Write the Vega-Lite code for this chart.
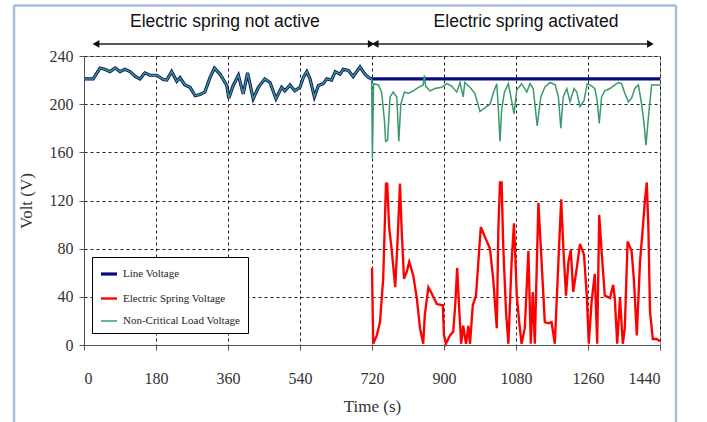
{
"$schema":"https://vega.github.io/schema/vega-lite/v6.json",
"width":576,"height":289,
"autosize":{"type":"none"},
"padding":{"left":84,"top":56,"right":47,"bottom":77},
"background":"white",
"datasets":{
"lines":[
{"s":"Line Voltage","t":0,"v":221},{"s":"Line Voltage","t":23,"v":221},{"s":"Line Voltage","t":40,"v":230},{"s":"Line Voltage","t":52,"v":229},{"s":"Line Voltage","t":65,"v":227},{"s":"Line Voltage","t":78,"v":230},{"s":"Line Voltage","t":90,"v":227},{"s":"Line Voltage","t":102,"v":229},{"s":"Line Voltage","t":115,"v":227},{"s":"Line Voltage","t":128,"v":223},{"s":"Line Voltage","t":140,"v":221},{"s":"Line Voltage","t":152,"v":226},{"s":"Line Voltage","t":165,"v":224},{"s":"Line Voltage","t":182,"v":224},{"s":"Line Voltage","t":198,"v":220.5},{"s":"Line Voltage","t":207,"v":220},{"s":"Line Voltage","t":219,"v":227},{"s":"Line Voltage","t":232,"v":219},{"s":"Line Voltage","t":240,"v":222},{"s":"Line Voltage","t":252,"v":216},{"s":"Line Voltage","t":265,"v":214},{"s":"Line Voltage","t":278,"v":207},{"s":"Line Voltage","t":290,"v":208},{"s":"Line Voltage","t":302,"v":210},{"s":"Line Voltage","t":315,"v":222},{"s":"Line Voltage","t":326,"v":230},{"s":"Line Voltage","t":340,"v":225},{"s":"Line Voltage","t":357,"v":215.5},{"s":"Line Voltage","t":362,"v":205},{"s":"Line Voltage","t":373,"v":215.5},{"s":"Line Voltage","t":386,"v":224},{"s":"Line Voltage","t":398,"v":208.5},{"s":"Line Voltage","t":409,"v":226},{"s":"Line Voltage","t":423,"v":204.5},{"s":"Line Voltage","t":436,"v":214},{"s":"Line Voltage","t":452,"v":221},{"s":"Line Voltage","t":465,"v":218},{"s":"Line Voltage","t":480,"v":204.5},{"s":"Line Voltage","t":494,"v":214},{"s":"Line Voltage","t":502,"v":211},{"s":"Line Voltage","t":515,"v":216},{"s":"Line Voltage","t":527,"v":211},{"s":"Line Voltage","t":540,"v":214},{"s":"Line Voltage","t":548,"v":222},{"s":"Line Voltage","t":557,"v":227},{"s":"Line Voltage","t":565,"v":221},{"s":"Line Voltage","t":576,"v":206},{"s":"Line Voltage","t":586,"v":215.5},{"s":"Line Voltage","t":598,"v":217},{"s":"Line Voltage","t":607,"v":221},{"s":"Line Voltage","t":619,"v":220},{"s":"Line Voltage","t":628,"v":227},{"s":"Line Voltage","t":640,"v":225},{"s":"Line Voltage","t":648,"v":229},{"s":"Line Voltage","t":661,"v":228},{"s":"Line Voltage","t":673,"v":223},{"s":"Line Voltage","t":690,"v":231},{"s":"Line Voltage","t":702,"v":225},{"s":"Line Voltage","t":712,"v":222},{"s":"Line Voltage","t":719,"v":221},{"s":"Line Voltage","t":1440,"v":221},
{"s":"Electric Spring Voltage","t":720,"v":64},{"s":"Electric Spring Voltage","t":723,"v":1},{"s":"Electric Spring Voltage","t":732,"v":8},{"s":"Electric Spring Voltage","t":740,"v":19},{"s":"Electric Spring Voltage","t":748,"v":55},{"s":"Electric Spring Voltage","t":755,"v":134},{"s":"Electric Spring Voltage","t":758,"v":134},{"s":"Electric Spring Voltage","t":763,"v":97},{"s":"Electric Spring Voltage","t":769,"v":80},{"s":"Electric Spring Voltage","t":778,"v":48},{"s":"Electric Spring Voltage","t":783,"v":80},{"s":"Electric Spring Voltage","t":790,"v":134},{"s":"Electric Spring Voltage","t":794,"v":97},{"s":"Electric Spring Voltage","t":800,"v":55},{"s":"Electric Spring Voltage","t":807,"v":61},{"s":"Electric Spring Voltage","t":813,"v":69},{"s":"Electric Spring Voltage","t":823,"v":58},{"s":"Electric Spring Voltage","t":832,"v":39},{"s":"Electric Spring Voltage","t":840,"v":14},{"s":"Electric Spring Voltage","t":848,"v":1},{"s":"Electric Spring Voltage","t":852,"v":25},{"s":"Electric Spring Voltage","t":861,"v":48},{"s":"Electric Spring Voltage","t":869,"v":43},{"s":"Electric Spring Voltage","t":882,"v":34},{"s":"Electric Spring Voltage","t":897,"v":33},{"s":"Electric Spring Voltage","t":900,"v":8},{"s":"Electric Spring Voltage","t":905,"v":1},{"s":"Electric Spring Voltage","t":915,"v":8},{"s":"Electric Spring Voltage","t":923,"v":11},{"s":"Electric Spring Voltage","t":928,"v":33},{"s":"Electric Spring Voltage","t":933,"v":64},{"s":"Electric Spring Voltage","t":938,"v":30},{"s":"Electric Spring Voltage","t":943,"v":1},{"s":"Electric Spring Voltage","t":948,"v":16},{"s":"Electric Spring Voltage","t":955,"v":1},{"s":"Electric Spring Voltage","t":961,"v":16},{"s":"Electric Spring Voltage","t":965,"v":1},{"s":"Electric Spring Voltage","t":972,"v":33},{"s":"Electric Spring Voltage","t":980,"v":41},{"s":"Electric Spring Voltage","t":992,"v":98},{"s":"Electric Spring Voltage","t":1002,"v":90},{"s":"Electric Spring Voltage","t":1015,"v":80},{"s":"Electric Spring Voltage","t":1023,"v":55},{"s":"Electric Spring Voltage","t":1032,"v":14},{"s":"Electric Spring Voltage","t":1036,"v":97},{"s":"Electric Spring Voltage","t":1040,"v":135},{"s":"Electric Spring Voltage","t":1044,"v":135},{"s":"Electric Spring Voltage","t":1048,"v":83},{"s":"Electric Spring Voltage","t":1055,"v":28},{"s":"Electric Spring Voltage","t":1061,"v":1},{"s":"Electric Spring Voltage","t":1069,"v":69},{"s":"Electric Spring Voltage","t":1075,"v":101},{"s":"Electric Spring Voltage","t":1082,"v":41},{"s":"Electric Spring Voltage","t":1088,"v":19},{"s":"Electric Spring Voltage","t":1094,"v":1},{"s":"Electric Spring Voltage","t":1102,"v":14},{"s":"Electric Spring Voltage","t":1111,"v":78},{"s":"Electric Spring Voltage","t":1117,"v":1},{"s":"Electric Spring Voltage","t":1122,"v":44},{"s":"Electric Spring Voltage","t":1127,"v":1},{"s":"Electric Spring Voltage","t":1136,"v":118},{"s":"Electric Spring Voltage","t":1144,"v":69},{"s":"Electric Spring Voltage","t":1152,"v":19},{"s":"Electric Spring Voltage","t":1161,"v":18},{"s":"Electric Spring Voltage","t":1169,"v":19},{"s":"Electric Spring Voltage","t":1177,"v":1},{"s":"Electric Spring Voltage","t":1186,"v":69},{"s":"Electric Spring Voltage","t":1193,"v":121},{"s":"Electric Spring Voltage","t":1198,"v":83},{"s":"Electric Spring Voltage","t":1205,"v":41},{"s":"Electric Spring Voltage","t":1211,"v":69},{"s":"Electric Spring Voltage","t":1217,"v":79},{"s":"Electric Spring Voltage","t":1223,"v":44},{"s":"Electric Spring Voltage","t":1232,"v":64},{"s":"Electric Spring Voltage","t":1240,"v":84},{"s":"Electric Spring Voltage","t":1250,"v":75},{"s":"Electric Spring Voltage","t":1257,"v":41},{"s":"Electric Spring Voltage","t":1262,"v":1},{"s":"Electric Spring Voltage","t":1269,"v":36},{"s":"Electric Spring Voltage","t":1277,"v":59},{"s":"Electric Spring Voltage","t":1283,"v":1},{"s":"Electric Spring Voltage","t":1288,"v":108},{"s":"Electric Spring Voltage","t":1294,"v":78},{"s":"Electric Spring Voltage","t":1302,"v":41},{"s":"Electric Spring Voltage","t":1315,"v":39},{"s":"Electric Spring Voltage","t":1323,"v":50},{"s":"Electric Spring Voltage","t":1327,"v":39},{"s":"Electric Spring Voltage","t":1333,"v":1},{"s":"Electric Spring Voltage","t":1340,"v":39},{"s":"Electric Spring Voltage","t":1347,"v":1},{"s":"Electric Spring Voltage","t":1352,"v":14},{"s":"Electric Spring Voltage","t":1359,"v":86},{"s":"Electric Spring Voltage","t":1369,"v":78},{"s":"Electric Spring Voltage","t":1375,"v":53},{"s":"Electric Spring Voltage","t":1382,"v":8},{"s":"Electric Spring Voltage","t":1390,"v":69},{"s":"Electric Spring Voltage","t":1397,"v":97},{"s":"Electric Spring Voltage","t":1402,"v":119},{"s":"Electric Spring Voltage","t":1407,"v":135},{"s":"Electric Spring Voltage","t":1411,"v":97},{"s":"Electric Spring Voltage","t":1415,"v":28},{"s":"Electric Spring Voltage","t":1422,"v":5},{"s":"Electric Spring Voltage","t":1432,"v":5},{"s":"Electric Spring Voltage","t":1440,"v":3},
{"s":"Non-Critical Load Voltage","t":0,"v":221},{"s":"Non-Critical Load Voltage","t":23,"v":221},{"s":"Non-Critical Load Voltage","t":40,"v":230},{"s":"Non-Critical Load Voltage","t":52,"v":229},{"s":"Non-Critical Load Voltage","t":65,"v":227},{"s":"Non-Critical Load Voltage","t":78,"v":230},{"s":"Non-Critical Load Voltage","t":90,"v":227},{"s":"Non-Critical Load Voltage","t":102,"v":229},{"s":"Non-Critical Load Voltage","t":115,"v":227},{"s":"Non-Critical Load Voltage","t":128,"v":223},{"s":"Non-Critical Load Voltage","t":140,"v":221},{"s":"Non-Critical Load Voltage","t":152,"v":226},{"s":"Non-Critical Load Voltage","t":165,"v":224},{"s":"Non-Critical Load Voltage","t":182,"v":224},{"s":"Non-Critical Load Voltage","t":198,"v":220.5},{"s":"Non-Critical Load Voltage","t":207,"v":220},{"s":"Non-Critical Load Voltage","t":219,"v":227},{"s":"Non-Critical Load Voltage","t":232,"v":219},{"s":"Non-Critical Load Voltage","t":240,"v":222},{"s":"Non-Critical Load Voltage","t":252,"v":216},{"s":"Non-Critical Load Voltage","t":265,"v":214},{"s":"Non-Critical Load Voltage","t":278,"v":207},{"s":"Non-Critical Load Voltage","t":290,"v":208},{"s":"Non-Critical Load Voltage","t":302,"v":210},{"s":"Non-Critical Load Voltage","t":315,"v":222},{"s":"Non-Critical Load Voltage","t":326,"v":230},{"s":"Non-Critical Load Voltage","t":340,"v":225},{"s":"Non-Critical Load Voltage","t":357,"v":215.5},{"s":"Non-Critical Load Voltage","t":362,"v":205},{"s":"Non-Critical Load Voltage","t":373,"v":215.5},{"s":"Non-Critical Load Voltage","t":386,"v":224},{"s":"Non-Critical Load Voltage","t":398,"v":208.5},{"s":"Non-Critical Load Voltage","t":409,"v":226},{"s":"Non-Critical Load Voltage","t":423,"v":204.5},{"s":"Non-Critical Load Voltage","t":436,"v":214},{"s":"Non-Critical Load Voltage","t":452,"v":221},{"s":"Non-Critical Load Voltage","t":465,"v":218},{"s":"Non-Critical Load Voltage","t":480,"v":204.5},{"s":"Non-Critical Load Voltage","t":494,"v":214},{"s":"Non-Critical Load Voltage","t":502,"v":211},{"s":"Non-Critical Load Voltage","t":515,"v":216},{"s":"Non-Critical Load Voltage","t":527,"v":211},{"s":"Non-Critical Load Voltage","t":540,"v":214},{"s":"Non-Critical Load Voltage","t":548,"v":222},{"s":"Non-Critical Load Voltage","t":557,"v":227},{"s":"Non-Critical Load Voltage","t":565,"v":221},{"s":"Non-Critical Load Voltage","t":576,"v":206},{"s":"Non-Critical Load Voltage","t":586,"v":215.5},{"s":"Non-Critical Load Voltage","t":598,"v":217},{"s":"Non-Critical Load Voltage","t":607,"v":221},{"s":"Non-Critical Load Voltage","t":619,"v":220},{"s":"Non-Critical Load Voltage","t":628,"v":227},{"s":"Non-Critical Load Voltage","t":640,"v":225},{"s":"Non-Critical Load Voltage","t":648,"v":229},{"s":"Non-Critical Load Voltage","t":661,"v":228},{"s":"Non-Critical Load Voltage","t":673,"v":223},{"s":"Non-Critical Load Voltage","t":690,"v":231},{"s":"Non-Critical Load Voltage","t":702,"v":225},{"s":"Non-Critical Load Voltage","t":712,"v":222},{"s":"Non-Critical Load Voltage","t":719,"v":221},
{"s":"Non-Critical Load Voltage","t":721,"v":155},{"s":"Non-Critical Load Voltage","t":724,"v":217},{"s":"Non-Critical Load Voltage","t":736,"v":216},{"s":"Non-Critical Load Voltage","t":744,"v":210},{"s":"Non-Critical Load Voltage","t":751,"v":187},{"s":"Non-Critical Load Voltage","t":754,"v":169},{"s":"Non-Critical Load Voltage","t":759,"v":170},{"s":"Non-Critical Load Voltage","t":765,"v":206},{"s":"Non-Critical Load Voltage","t":773,"v":210},{"s":"Non-Critical Load Voltage","t":782,"v":206},{"s":"Non-Critical Load Voltage","t":787,"v":169},{"s":"Non-Critical Load Voltage","t":792,"v":200},{"s":"Non-Critical Load Voltage","t":801,"v":210},{"s":"Non-Critical Load Voltage","t":811,"v":209},{"s":"Non-Critical Load Voltage","t":823,"v":211},{"s":"Non-Critical Load Voltage","t":836,"v":214},{"s":"Non-Critical Load Voltage","t":848,"v":216},{"s":"Non-Critical Load Voltage","t":851,"v":224},{"s":"Non-Critical Load Voltage","t":854,"v":215},{"s":"Non-Critical Load Voltage","t":865,"v":211},{"s":"Non-Critical Load Voltage","t":877,"v":213},{"s":"Non-Critical Load Voltage","t":894,"v":214},{"s":"Non-Critical Load Voltage","t":907,"v":217},{"s":"Non-Critical Load Voltage","t":919,"v":215},{"s":"Non-Critical Load Voltage","t":932,"v":210},{"s":"Non-Critical Load Voltage","t":940,"v":218},{"s":"Non-Critical Load Voltage","t":948,"v":206},{"s":"Non-Critical Load Voltage","t":952,"v":218},{"s":"Non-Critical Load Voltage","t":965,"v":214},{"s":"Non-Critical Load Voltage","t":977,"v":209},{"s":"Non-Critical Load Voltage","t":990,"v":194},{"s":"Non-Critical Load Voltage","t":998,"v":196},{"s":"Non-Critical Load Voltage","t":1015,"v":200},{"s":"Non-Critical Load Voltage","t":1023,"v":209},{"s":"Non-Critical Load Voltage","t":1032,"v":217},{"s":"Non-Critical Load Voltage","t":1036,"v":195},{"s":"Non-Critical Load Voltage","t":1040,"v":169},{"s":"Non-Critical Load Voltage","t":1044,"v":195},{"s":"Non-Critical Load Voltage","t":1051,"v":210},{"s":"Non-Critical Load Voltage","t":1061,"v":217},{"s":"Non-Critical Load Voltage","t":1069,"v":203},{"s":"Non-Critical Load Voltage","t":1075,"v":192},{"s":"Non-Critical Load Voltage","t":1082,"v":212},{"s":"Non-Critical Load Voltage","t":1094,"v":217},{"s":"Non-Critical Load Voltage","t":1107,"v":210},{"s":"Non-Critical Load Voltage","t":1115,"v":217},{"s":"Non-Critical Load Voltage","t":1123,"v":213},{"s":"Non-Critical Load Voltage","t":1133,"v":182},{"s":"Non-Critical Load Voltage","t":1142,"v":206},{"s":"Non-Critical Load Voltage","t":1152,"v":214},{"s":"Non-Critical Load Voltage","t":1165,"v":218},{"s":"Non-Critical Load Voltage","t":1178,"v":216},{"s":"Non-Critical Load Voltage","t":1186,"v":206},{"s":"Non-Critical Load Voltage","t":1192,"v":180},{"s":"Non-Critical Load Voltage","t":1198,"v":206},{"s":"Non-Critical Load Voltage","t":1207,"v":213},{"s":"Non-Critical Load Voltage","t":1215,"v":202},{"s":"Non-Critical Load Voltage","t":1225,"v":213},{"s":"Non-Critical Load Voltage","t":1232,"v":210},{"s":"Non-Critical Load Voltage","t":1240,"v":198},{"s":"Non-Critical Load Voltage","t":1250,"v":203},{"s":"Non-Critical Load Voltage","t":1258,"v":217},{"s":"Non-Critical Load Voltage","t":1265,"v":216},{"s":"Non-Critical Load Voltage","t":1277,"v":213},{"s":"Non-Critical Load Voltage","t":1283,"v":203},{"s":"Non-Critical Load Voltage","t":1288,"v":184},{"s":"Non-Critical Load Voltage","t":1294,"v":206},{"s":"Non-Critical Load Voltage","t":1302,"v":211},{"s":"Non-Critical Load Voltage","t":1315,"v":213},{"s":"Non-Critical Load Voltage","t":1327,"v":216},{"s":"Non-Critical Load Voltage","t":1336,"v":218},{"s":"Non-Critical Load Voltage","t":1344,"v":217},{"s":"Non-Critical Load Voltage","t":1352,"v":209},{"s":"Non-Critical Load Voltage","t":1361,"v":202},{"s":"Non-Critical Load Voltage","t":1369,"v":205},{"s":"Non-Critical Load Voltage","t":1377,"v":213},{"s":"Non-Critical Load Voltage","t":1386,"v":216},{"s":"Non-Critical Load Voltage","t":1394,"v":200},{"s":"Non-Critical Load Voltage","t":1400,"v":184},{"s":"Non-Critical Load Voltage","t":1405,"v":166},{"s":"Non-Critical Load Voltage","t":1411,"v":189},{"s":"Non-Critical Load Voltage","t":1419,"v":216},{"s":"Non-Critical Load Voltage","t":1440,"v":216}
],
"frame":[{"x":-175,"x2":-175,"y":-70,"y2":282},{"x":-175,"x2":1480,"y":282,"y2":282},{"x":1480,"x2":1480,"y":282,"y2":-70}],
"arrows":[{"a":30,"b":718,"y":250},{"a":728,"b":1416,"y":250}],
"heads":[{"t":30,"y":250,"dir":"triangle-left"},{"t":718,"y":250,"dir":"triangle-right"},{"t":728,"y":250,"dir":"triangle-left"},{"t":1416,"y":250,"dir":"triangle-right"}],
"labels":[{"t":352,"y":268,"text":"Electric spring not active"},{"t":1105,"y":268,"text":"Electric spring activated"}]
},
"layer":[
{"data":{"name":"frame"},"mark":{"type":"rule","color":"#a6bddc","strokeWidth":2.5},
"encoding":{"x":{"field":"x","type":"quantitative"},"x2":{"field":"x2"},"y":{"field":"y","type":"quantitative"},"y2":{"field":"y2"}}},
{"data":{"name":"lines"},"mark":{"type":"line","interpolate":"linear"},
"encoding":{
"x":{"field":"t","type":"quantitative","scale":{"domain":[0,1440],"nice":false,"zero":false},"axis":{"values":[0,180,360,540,720,900,1080,1260,1440],"format":"d","title":"Time (s)","labelPadding":20,"titlePadding":12}},
"y":{"field":"v","type":"quantitative","scale":{"domain":[0,240],"nice":false},"axis":{"values":[0,40,80,120,160,200,240],"format":"d","title":"Volt (V)","labelPadding":6,"titlePadding":14}},
"color":{"field":"s","type":"nominal","scale":{"domain":["Line Voltage","Electric Spring Voltage","Non-Critical Load Voltage"],"range":["#0b0b80","#ff0000","#3a9a6c"]},"legend":{"title":null,"orient":"none","legendX":8,"legendY":201}},
"strokeWidth":{"field":"s","type":"nominal","scale":{"domain":["Line Voltage","Electric Spring Voltage","Non-Critical Load Voltage"],"range":[3.2,1.5,2]},"legend":null}
}},
{"data":{"name":"arrows"},"mark":{"type":"rule","color":"#222","strokeWidth":1.6},
"encoding":{"x":{"field":"a","type":"quantitative"},"x2":{"field":"b"},"y":{"field":"y","type":"quantitative"}}},
{"data":{"name":"heads"},"mark":{"type":"point","filled":true,"color":"#111","opacity":1,"size":60},
"encoding":{"x":{"field":"t","type":"quantitative"},"y":{"field":"y","type":"quantitative"},"shape":{"field":"dir","type":"nominal","scale":{"domain":["triangle-left","triangle-right"],"range":["triangle-left","triangle-right"]},"legend":null}}},
{"data":{"name":"labels"},"mark":{"type":"text","font":"Liberation Sans","fontSize":17.5,"color":"#111","align":"center","baseline":"middle"},
"encoding":{"x":{"field":"t","type":"quantitative"},"y":{"field":"y","type":"quantitative"},"text":{"field":"text"}}}
],
"config":{
"view":{"stroke":"#999999","strokeWidth":1},
"axis":{"domainColor":"#555","tickColor":"#555","tickSize":5,"grid":true,"gridColor":"#222","gridDash":[3,3],"gridWidth":1,"labelFont":"Liberation Serif","labelFontSize":16,"labelColor":"#333","titleFont":"Liberation Serif","titleFontSize":17,"titleFontWeight":"normal","titleColor":"#333"},
"legend":{"strokeColor":"#000","fillColor":"#fff","padding":7,"labelFont":"Liberation Serif","labelFontSize":11,"labelColor":"#222","symbolType":"stroke","symbolSize":256,"symbolStrokeWidth":2,"rowPadding":8,"labelLimit":200,"cornerRadius":0}
}
}
